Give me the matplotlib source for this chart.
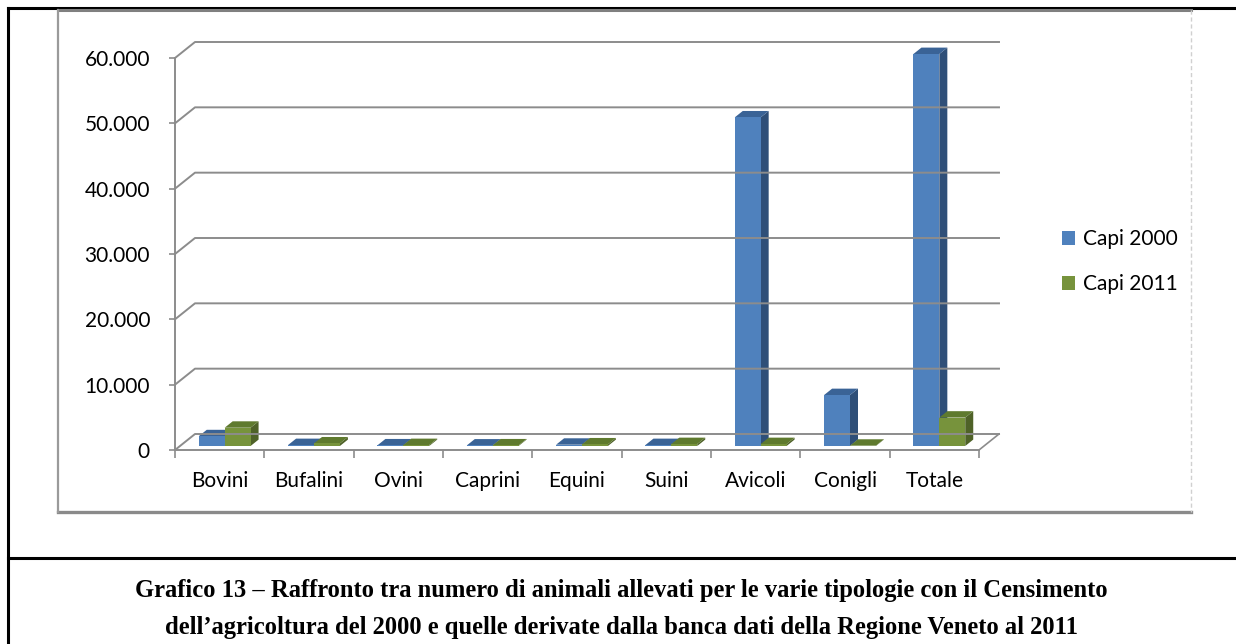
import numpy as np
import matplotlib
matplotlib.use("Agg")
import matplotlib.pyplot as plt
import matplotlib.transforms as mtransforms
from matplotlib.patches import Polygon, Patch
from matplotlib.lines import Line2D

# data
categories = ["Bovini", "Bufalini", "Ovini", "Caprini", "Equini", "Suini", "Avicoli", "Conigli", "Totale"]
capi_2000 = [1500, 150, 100, 80, 200, 150, 50300, 7800, 60000]
capi_2011 = [2800, 400, 150, 100, 250, 300, 300, 50, 4350]
yticks = [0, 10000, 20000, 30000, 40000, 50000, 60000]
series_names = ["Capi 2000", "Capi 2011"]
caption = ("Grafico 13 \u2013 Raffronto tra numero di animali allevati per le varie tipologie con il Censimento\n"
           "dell\u2019agricoltura del 2000 e quelle derivate dalla banca dati della Regione Veneto al 2011")

W, H = 1236, 644
blue = ("#4F81BD", "#3A6396", "#2F4F78")   # front, top, side
green = ("#77933C", "#5F7A2E", "#4F6228")
grid_col = "#8C8C8C"
sans = ["Lato", "DejaVu Sans"]

fig = plt.figure(figsize=(W / 100, H / 100), dpi=100)
fig.patch.set_facecolor("white")

def fx(x):
    return x / W

def fy(y):
    return 1 - y / H

# page frame lines
fig.add_artist(Line2D([fx(8), 1], [fy(8), fy(8)], color="black", lw=2.2, transform=fig.transFigure))
fig.add_artist(Line2D([fx(8), fx(8)], [fy(8), 0], color="black", lw=2.2, transform=fig.transFigure))
fig.add_artist(Line2D([fx(8), 1], [fy(558), fy(558)], color="black", lw=2.2, transform=fig.transFigure))

# chart box
fig.add_artist(Line2D([fx(58), fx(1191)], [fy(10), fy(10)], color="#808080", lw=2.2, transform=fig.transFigure))
fig.add_artist(Line2D([fx(58), fx(1191)], [fy(512), fy(512)], color="#8A8A8A", lw=2.4, transform=fig.transFigure))
fig.add_artist(Line2D([fx(58), fx(58)], [fy(10), fy(512)], color="#9A9A9A", lw=1.6, transform=fig.transFigure))
fig.add_artist(Line2D([fx(1191), fx(1191)], [fy(10), fy(512)], color="#D0D0D0", lw=1.0,
                      ls=(0, (3, 2)), transform=fig.transFigure))

ax = fig.add_axes([fx(175), fy(450), (979 - 175) / W, (450 - 58) / H])
ax.set_xlim(0, len(categories))
ax.set_ylim(0, 60000)
ax.set_facecolor("none")
for s in ["top", "right"]:
    ax.spines[s].set_visible(False)
for s in ["left", "bottom"]:
    ax.spines[s].set_color(grid_col)
    ax.spines[s].set_linewidth(1.4)

ax.set_yticks(yticks)
ax.set_yticklabels([f"{v:,}".replace(",", ".") for v in yticks], fontsize=15, family=sans)
ax.tick_params(axis="y", length=4, width=1.2, color=grid_col, pad=14)
ax.set_xticks(np.arange(len(categories)) + 0.5)
ax.set_xticklabels(categories, fontsize=15, family=sans)
ax.set_xticks(np.arange(len(categories) + 1), minor=True)
ax.tick_params(axis="x", which="major", length=0, pad=15)
ax.tick_params(axis="x", which="minor", length=6, width=1.2, color=grid_col)

fig.canvas.draw()
depth = np.array([20.0, 16.0])   # pixel offset from front to back wall
ident = mtransforms.IdentityTransform()

def disp(x, y, d=0.0):
    return ax.transData.transform((x, y)) + d * depth

# back wall gridlines with the diagonal on the side wall
n = len(categories)
for v in yticks:
    pts = np.array([disp(0, v), disp(0, v, 1), disp(n, v, 1)])
    ax.add_line(Line2D(pts[:, 0], pts[:, 1], color=grid_col, lw=1.4, transform=ident, clip_on=False))
pts = np.array([disp(n, 0), disp(n, 0, 1)])
ax.add_line(Line2D(pts[:, 0], pts[:, 1], color=grid_col, lw=1.2, transform=ident, clip_on=False))

# pseudo 3D bars
bw = 0.29
d0, d1 = 0.25, 0.65

def bar3d(x0, h, cols):
    x1 = x0 + bw
    front = [disp(x0, 0, d0), disp(x1, 0, d0), disp(x1, h, d0), disp(x0, h, d0)]
    side = [disp(x1, 0, d0), disp(x1, 0, d1), disp(x1, h, d1), disp(x1, h, d0)]
    top = [disp(x0, h, d0), disp(x1, h, d0), disp(x1, h, d1), disp(x0, h, d1)]
    for poly, c in ((side, cols[2]), (top, cols[1]), (front, cols[0])):
        ax.add_patch(Polygon(poly, closed=True, facecolor=c, edgecolor="none",
                             transform=ident, clip_on=False))

for i in range(n):
    bar3d(i + 0.5 - bw, capi_2000[i], blue)
    bar3d(i + 0.5, capi_2011[i], green)

handles = [Patch(facecolor=blue[0]), Patch(facecolor=green[0])]
fig.legend(handles, series_names, loc="center left", bbox_to_anchor=(fx(1043), fy(262)),
           frameon=False, prop={"family": sans, "size": 15}, handlelength=0.65,
           handleheight=0.65, handletextpad=0.35, labelspacing=1.2)

fig.text(0.503, fy(609), caption, ha="center", va="center", fontsize=17.7,
         fontweight="bold", family="Liberation Serif", linespacing=1.75)

fig.savefig("out.png", dpi=100)
